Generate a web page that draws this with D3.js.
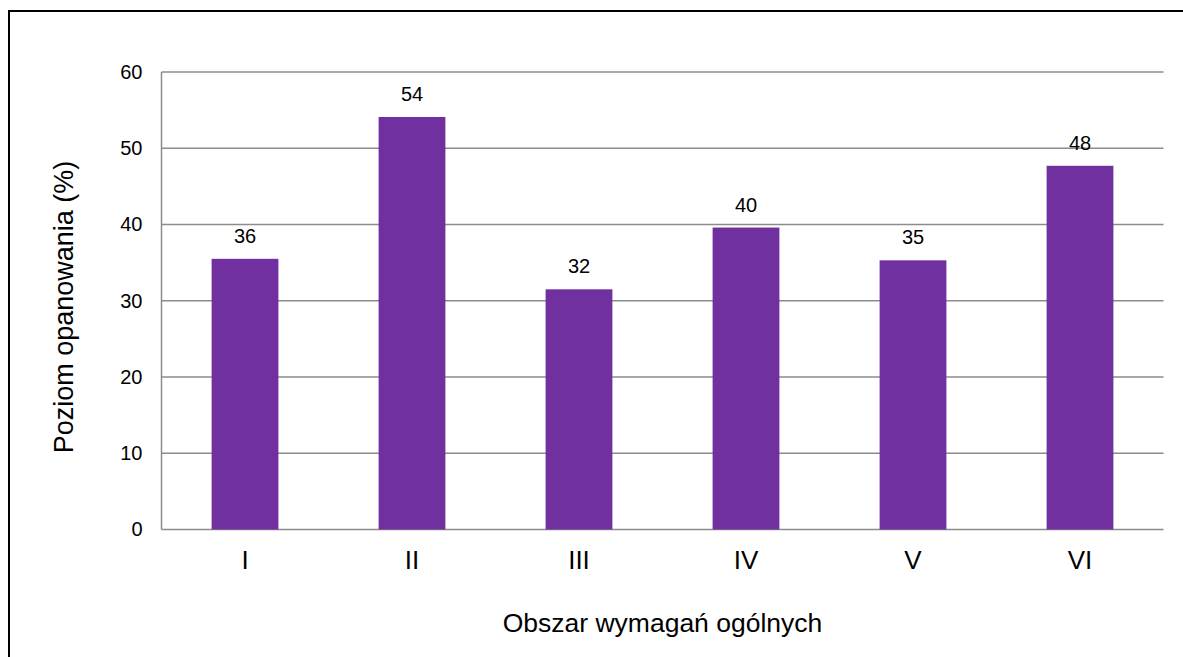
<!DOCTYPE html>
<html>
<head>
<meta charset="utf-8">
<script src="https://cdn.jsdelivr.net/npm/d3@7"></script>
<style>
  body { margin: 0; background: #fff; }
  svg { font-family: "Liberation Sans", Arial, sans-serif; }
</style>
</head>
<body>
<div id="chart"></div>
<script>
// data
const categories = ["I", "II", "III", "IV", "V", "VI"];
const values = [35.5, 54.1, 31.5, 39.6, 35.3, 47.7];
const valueLabels = ["36", "54", "32", "40", "35", "48"];
const yTicks = [0, 10, 20, 30, 40, 50, 60];

const width = 1183, height = 657;
const margin = { top: 72, right: 19.5, bottom: 127.5, left: 161.5 };
const innerW = width - margin.left - margin.right;
const innerH = height - margin.top - margin.bottom;

const svg = d3.select("#chart").append("svg")
    .attr("width", width)
    .attr("height", height);

// outer frame
svg.append("rect")
    .attr("x", 9).attr("y", 11)
    .attr("width", width + 10).attr("height", height + 10)
    .attr("fill", "none")
    .attr("stroke", "#000")
    .attr("stroke-width", 2);

const x = d3.scaleBand()
    .domain(categories)
    .range([0, innerW])
    .paddingInner(0.6)
    .paddingOuter(0.3);

const y = d3.scaleLinear()
    .domain([0, 60])
    .range([innerH, 0]);

const g = svg.append("g")
    .attr("transform", `translate(${margin.left},${margin.top})`);

// gridlines
g.append("g")
    .selectAll("line")
    .data(yTicks)
    .join("line")
    .attr("x1", 0).attr("x2", innerW)
    .attr("y1", d => y(d)).attr("y2", d => y(d))
    .attr("stroke", "#8c8c8c")
    .attr("stroke-width", 1.5);

// left axis line
g.append("line")
    .attr("x1", 0).attr("x2", 0)
    .attr("y1", 0).attr("y2", innerH)
    .attr("stroke", "#8c8c8c")
    .attr("stroke-width", 1.5);

// y tick labels
const yAxis = g.append("g")
    .call(d3.axisLeft(y).tickValues(yTicks).tickSize(0).tickPadding(19));
yAxis.select(".domain").remove();
yAxis.selectAll("text")
    .attr("font-size", 20)
    .attr("font-family", "Liberation Sans, Arial, sans-serif")
    .attr("fill", "#000");

// bars
g.append("g")
    .selectAll("rect")
    .data(values)
    .join("rect")
    .attr("x", (d, i) => x(categories[i]))
    .attr("y", d => y(d))
    .attr("width", x.bandwidth())
    .attr("height", d => innerH - y(d))
    .attr("fill", "#7030a0");

// value labels
g.append("g")
    .selectAll("text")
    .data(values)
    .join("text")
    .attr("x", (d, i) => x(categories[i]) + x.bandwidth() / 2)
    .attr("y", d => y(d) - 16)
    .attr("text-anchor", "middle")
    .attr("font-size", 20)
    .attr("fill", "#000")
    .text((d, i) => valueLabels[i]);

// x category labels
const xAxis = g.append("g")
    .attr("transform", `translate(0,${innerH})`)
    .call(d3.axisBottom(x).tickSize(0).tickPadding(21));
xAxis.select(".domain").remove();
xAxis.selectAll("text")
    .attr("font-size", 26)
    .attr("font-family", "Liberation Sans, Arial, sans-serif")
    .attr("fill", "#000");

// axis titles
svg.append("text")
    .attr("x", margin.left + innerW / 2)
    .attr("y", 632)
    .attr("text-anchor", "middle")
    .attr("font-size", 26.5)
    .attr("fill", "#000")
    .text("Obszar wymagań ogólnych");

svg.append("text")
    .attr("transform", `translate(73,307) rotate(-90)`)
    .attr("text-anchor", "middle")
    .attr("font-size", 27)
    .attr("fill", "#000")
    .text("Poziom opanowania (%)");
</script>
</body>
</html>
